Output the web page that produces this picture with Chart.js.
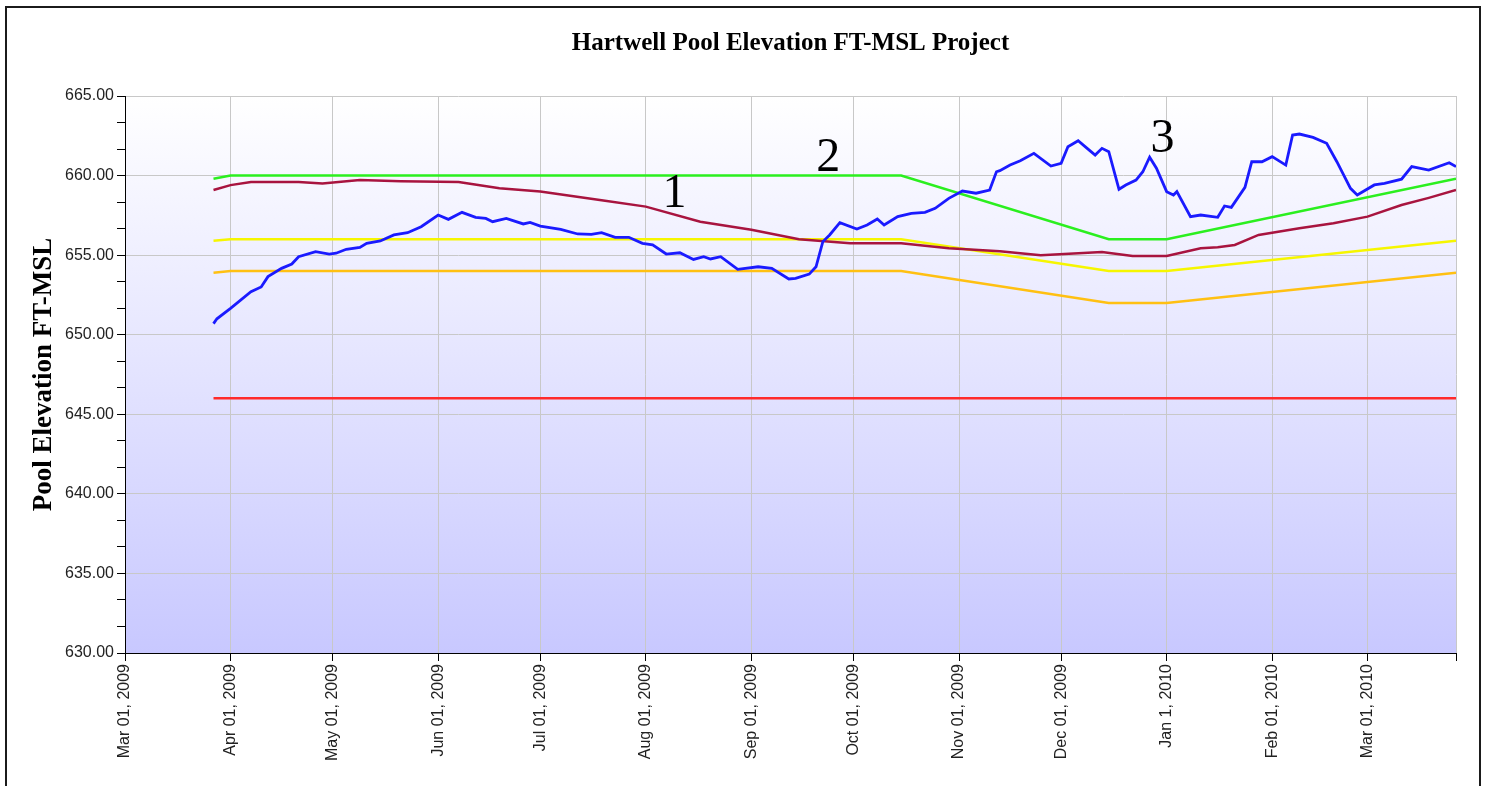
<!DOCTYPE html>
<html>
<head>
<meta charset="utf-8">
<title>Hartwell Pool Elevation</title>
<script src="https://cdn.jsdelivr.net/npm/chart.js@4.4.1/dist/chart.umd.min.js"></script>
<style>
  html, body { margin: 0; padding: 0; background: #fff; overflow: hidden; }
  #frame { position: absolute; left: 5px; top: 6px; width: 1472px; height: 900px; border: 2px solid #1b1b1b; border-bottom: none; }
  #poolChart { position: absolute; left: 0; top: 0; }
</style>
</head>
<body>
<div id="frame"></div>
<canvas id="poolChart" width="1486" height="786"></canvas>
<script>
// x values are days counted from Mar 01, 2009
const monthTickDays = [0, 31, 61, 92, 122, 153, 184, 214, 245, 275, 306, 337, 365];
const monthTickLabels = ['Mar 01, 2009', 'Apr 01, 2009', 'May 01, 2009', 'Jun 01, 2009', 'Jul 01, 2009',
  'Aug 01, 2009', 'Sep 01, 2009', 'Oct 01, 2009', 'Nov 01, 2009', 'Dec 01, 2009',
  'Jan 1, 2010', 'Feb 01, 2010', 'Mar 01, 2010'];
const lastDay = 391;
const yTickValues = [630, 635, 640, 645, 650, 655, 660, 665];

// actual pool elevation (blue)
const poolDays = [26, 27, 31, 37, 40, 42, 46, 49, 51, 56, 60, 62, 65, 69, 71, 75, 79, 83, 87, 92,
  95, 99, 103, 106, 108, 112, 117, 119, 122, 128, 133, 137, 140, 144, 148, 152, 155, 159, 163, 167,
  170, 172, 175, 180, 186, 190, 195, 197, 201, 203, 205, 207, 210, 215, 218, 221, 223, 227, 231, 235,
  238, 242, 246, 250, 254, 256, 257, 260, 263, 267, 272, 275, 277, 280, 283, 285, 287, 289, 292, 294,
  297, 299, 301, 303, 306, 308, 309, 313, 316, 321, 323, 325, 329, 331, 334, 337, 341, 343, 345, 349,
  353, 356, 360, 362, 367, 370, 375, 378, 383, 389, 391];
const poolLevels = [650.7, 651.0, 651.66, 652.7, 653.0, 653.65, 654.17, 654.44, 654.9, 655.22, 655.07, 655.12, 655.37, 655.49, 655.74, 655.89, 656.27, 656.41, 656.79, 657.52,
  657.25, 657.69, 657.38, 657.31, 657.1, 657.31, 656.96, 657.06, 656.83, 656.62, 656.33, 656.31, 656.41, 656.12, 656.12, 655.74, 655.64, 655.07, 655.15, 654.73,
  654.9, 654.76, 654.9, 654.11, 654.27, 654.17, 653.5, 653.54, 653.81, 654.27, 655.85, 656.27, 657.04, 656.64, 656.89, 657.27, 656.89, 657.42, 657.63, 657.69,
  657.94, 658.57, 659.03, 658.89, 659.09, 660.24, 660.31, 660.66, 660.93, 661.4, 660.6, 660.77, 661.81, 662.19, 661.65, 661.29, 661.71, 661.5, 659.14, 659.41,
  659.72, 660.24, 661.15, 660.46, 658.99, 658.78, 658.99, 657.42, 657.52, 657.38, 658.09, 658.0, 659.26, 660.87, 660.87, 661.19, 660.66, 662.55, 662.61, 662.4,
  662.03, 660.87, 659.2, 658.78, 659.41, 659.51, 659.77, 660.56, 660.35, 660.81, 660.56];

// crimson line
const avgDays = [26, 31, 37, 51, 58, 69, 81, 98, 110, 122, 140, 153, 169, 184, 198, 213, 228, 242, 257, 269,
  287, 296, 306, 316, 321, 326, 333, 345, 355, 365, 375, 383, 391];
const avgLevels = [659.09, 659.4, 659.6, 659.6, 659.5, 659.72, 659.65, 659.6, 659.2, 659.0, 658.45, 658.05, 657.1, 656.6, 656.0, 655.74, 655.74, 655.43, 655.25, 655.0,
  655.2, 654.95, 654.95, 655.43, 655.5, 655.64, 656.27, 656.69, 657.0, 657.42, 658.15, 658.6, 659.09];

// guide curves
const guideDays = [26, 31, 228, 289, 306, 391];
const greenLevels = [659.8, 660, 660, 656, 656, 659.8];
const yellowLevels = [655.9, 656, 656, 654, 654, 655.9];
const orangeLevels = [653.9, 654, 654, 652, 652, 653.9];
const floorDays = [26, 391];
const floorLevels = [646, 646];

// numbered markers
const markerLabels = ['1', '2', '3'];
const markerDays = [161.4, 206.6, 304.8];
const markerLevels = [658.8, 661.1, 662.25];

function toPoints(days, levels) {
  return days.map((d, i) => ({ x: d, y: levels[i] }));
}

const serif = '"Liberation Serif", "Times New Roman", serif';
const sans = '"Liberation Sans", Arial, sans-serif';

const plotBackground = {
  id: 'plotBackground',
  beforeDraw(chart) {
    const { ctx, chartArea } = chart;
    const g = ctx.createLinearGradient(0, chartArea.top, 0, chartArea.bottom);
    g.addColorStop(0, '#ffffff');
    g.addColorStop(1, '#c8c8ff');
    ctx.save();
    ctx.fillStyle = g;
    ctx.fillRect(chartArea.left, chartArea.top, chartArea.right - chartArea.left, chartArea.bottom - chartArea.top);
    ctx.restore();
  }
};

const markers = {
  id: 'markers',
  afterDatasetsDraw(chart) {
    const { ctx, scales } = chart;
    ctx.save();
    ctx.font = '48px ' + serif;
    ctx.fillStyle = '#000';
    ctx.textAlign = 'center';
    ctx.textBaseline = 'middle';
    markerLabels.forEach((t, i) => {
      ctx.fillText(t, scales.x.getPixelForValue(markerDays[i]), scales.y.getPixelForValue(markerLevels[i]));
    });
    ctx.restore();
  }
};

function lineSet(data, color, width) {
  return { data: data, borderColor: color, borderWidth: width, pointRadius: 0, tension: 0, fill: false };
}

const ctx = document.getElementById('poolChart').getContext('2d');
const poolChart = new Chart(ctx, {
  type: 'line',
  data: {
    datasets: [
      lineSet(toPoints(poolDays, poolLevels), '#1a1aff', 2.8),
      lineSet(toPoints(avgDays, avgLevels), '#a8143f', 2.5),
      lineSet(toPoints(guideDays, greenLevels), '#2bef1f', 2.5),
      lineSet(toPoints(guideDays, yellowLevels), '#f6f600', 2.5),
      lineSet(toPoints(guideDays, orangeLevels), '#ffc012', 2.5),
      lineSet(toPoints(floorDays, floorLevels), '#ff2b2b', 2.5)
    ]
  },
  options: {
    responsive: false,
    animation: false,
    layout: { padding: { left: 8, right: 30, top: 0, bottom: 0 } },
    plugins: {
      legend: { display: false },
      tooltip: { enabled: false },
      title: {
        display: true,
        text: 'Hartwell Pool Elevation FT-MSL Project',
        fullSize: false,
        color: '#000',
        font: { family: serif, size: 25, weight: 'bold' },
        padding: { top: 29, bottom: 37 }
      }
    },
    scales: {
      x: {
        type: 'linear',
        min: 0,
        max: lastDay,
        afterBuildTicks: s => { s.ticks = monthTickDays.concat([lastDay]).map(v => ({ value: v })); },
        afterFit: s => { s.height = 133; },
        ticks: {
          autoSkip: false,
          maxRotation: 90,
          minRotation: 90,
          padding: 3,
          color: '#222',
          font: { family: sans, size: 16 },
          callback: v => {
            const i = monthTickDays.indexOf(v);
            return i >= 0 ? monthTickLabels[i] : '';
          }
        },
        grid: { color: '#c8c8c8', lineWidth: 1, tickLength: 8, tickColor: '#000' },
        border: { color: '#000', width: 1 }
      },
      y: {
        min: 630,
        max: 665,
        afterBuildTicks: s => {
          const t = [];
          for (let i = 0; i < yTickValues.length - 1; i++) {
            const step = (yTickValues[i + 1] - yTickValues[i]) / 3;
            t.push({ value: yTickValues[i] }, { value: yTickValues[i] + step }, { value: yTickValues[i] + 2 * step });
          }
          t.push({ value: yTickValues[yTickValues.length - 1] });
          s.ticks = t;
        },
        afterFit: s => { s.width = 117; },
        ticks: {
          padding: 3,
          color: '#222',
          font: { family: sans, size: 16 },
          callback: v => (yTickValues.includes(v) ? v.toFixed(2) : '')
        },
        grid: {
          color: c => (c.tick && yTickValues.includes(c.tick.value) ? '#c8c8c8' : 'rgba(0,0,0,0)'),
          lineWidth: 1,
          tickLength: 8,
          tickColor: '#000'
        },
        border: { color: '#000', width: 1 },
        title: {
          display: true,
          text: 'Pool Elevation FT-MSL',
          color: '#000',
          font: { family: serif, size: 27, weight: 'bold' },
          padding: { top: 20, bottom: 0 }
        }
      }
    }
  },
  plugins: [plotBackground, markers]
});
</script>
</body>
</html>
